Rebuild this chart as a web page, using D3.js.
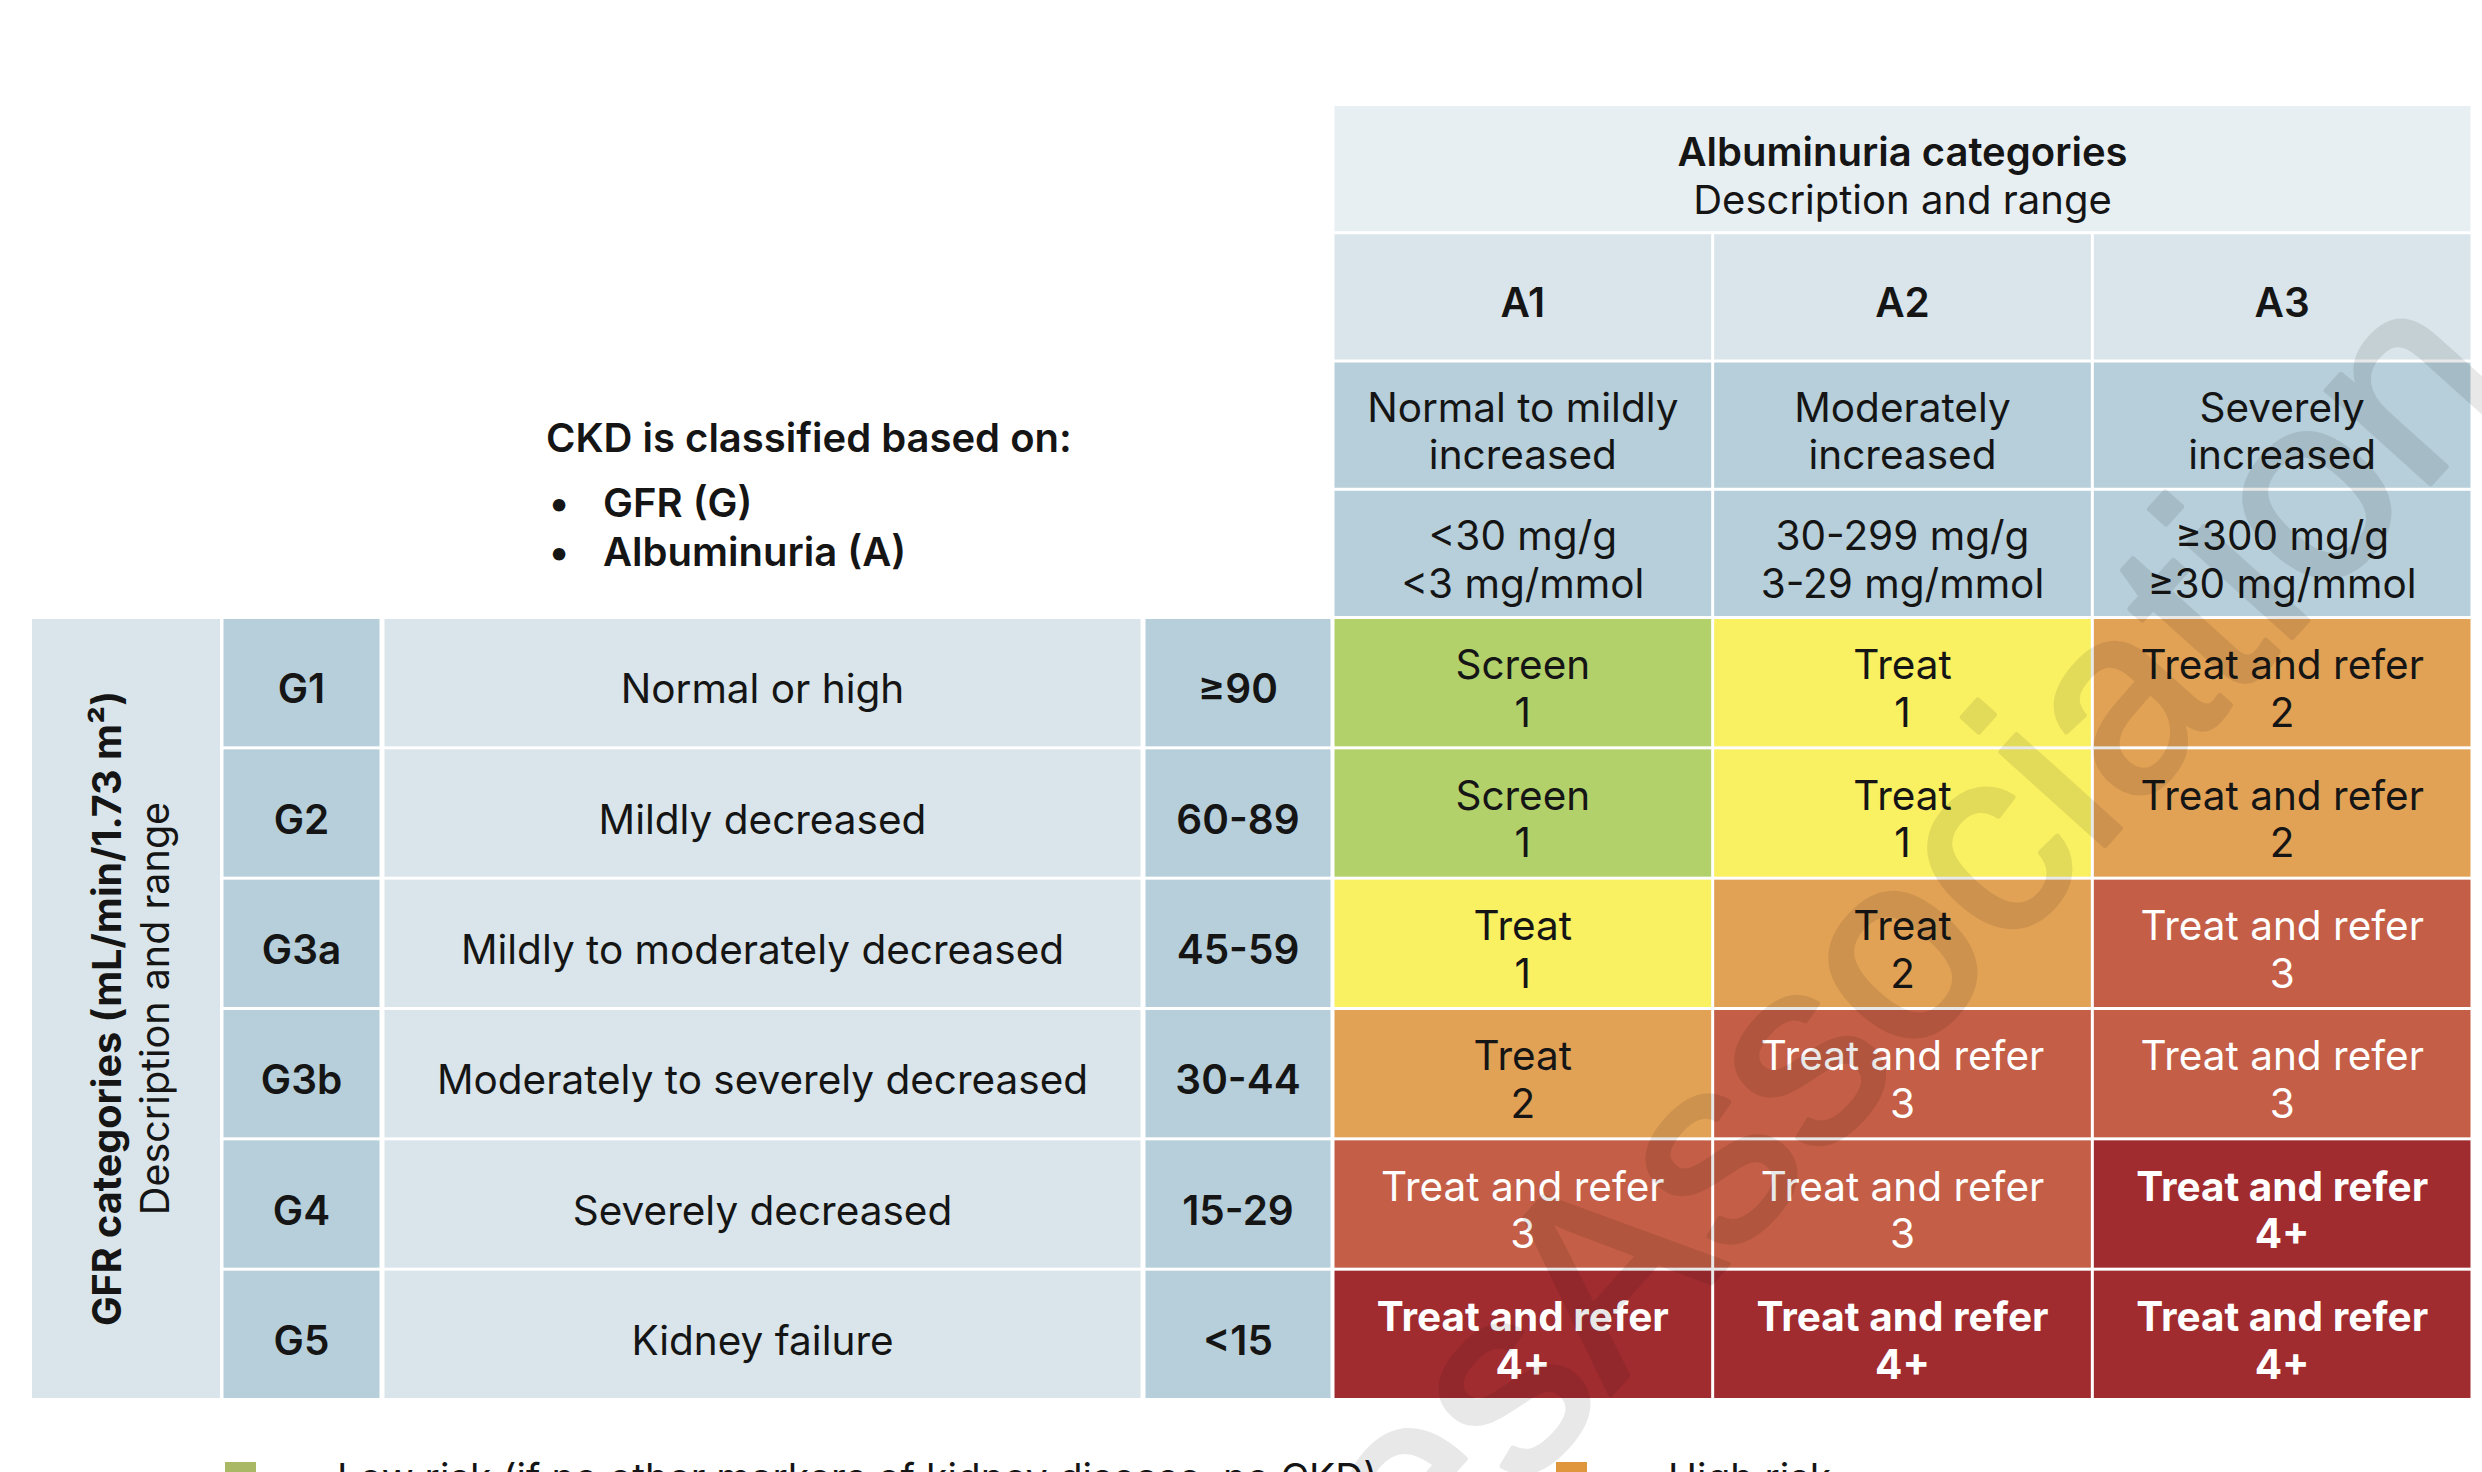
<!DOCTYPE html>
<html>
<head>
<meta charset="utf-8">
<script src="https://cdn.jsdelivr.net/npm/d3@7"></script>
<style>
  body { margin: 0; background: #fff; }
  text { font-family: Inter, "Noto Sans", sans-serif; fill: #151515; }
</style>
</head>
<body>
<div id="chart-area"></div>
<script>
// CKD risk grid: GFR categories x albuminuria categories

var albCodes = ["A1", "A2", "A3"]
var albDesc = [["Normal to mildly", "increased"], ["Moderately", "increased"], ["Severely", "increased"]]
var albRange = [["<30 mg/g", "<3 mg/mmol"], ["30-299 mg/g", "3-29 mg/mmol"], ["≥300 mg/g", "≥30 mg/mmol"]]

var gfrCodes = ["G1", "G2", "G3a", "G3b", "G4", "G5"]
var gfrDesc = ["Normal or high", "Mildly decreased", "Mildly to moderately decreased",
  "Moderately to severely decreased", "Severely decreased", "Kidney failure"]
var gfrRange = ["≥90", "60-89", "45-59", "30-44", "15-29", "<15"]

// risk level per cell: 0 low, 1 moderate, 2 high, 3 very high, 4 highest
var riskLevel = [
  [0, 1, 2],
  [0, 1, 2],
  [1, 2, 3],
  [2, 3, 3],
  [3, 3, 4],
  [4, 4, 4]
]
var actions = [
  ["Screen", "Treat", "Treat and refer"],
  ["Screen", "Treat", "Treat and refer"],
  ["Treat", "Treat", "Treat and refer"],
  ["Treat", "Treat and refer", "Treat and refer"],
  ["Treat and refer", "Treat and refer", "Treat and refer"],
  ["Treat and refer", "Treat and refer", "Treat and refer"]
]
var visits = [
  ["1", "1", "2"],
  ["1", "1", "2"],
  ["1", "2", "3"],
  ["2", "3", "3"],
  ["3", "3", "4+"],
  ["4+", "4+", "4+"]
]

var legendLabels = ["Low risk (if no other markers of kidney disease, no CKD)", "High risk"]
var legendLevels = [0, 2]

var riskColor = d3.scaleOrdinal()
  .domain([0, 1, 2, 3, 4])
  .range(["#b3d16b", "#f9f062", "#e2a256", "#c45e46", "#a12c30"])
var legendColor = d3.scaleOrdinal()
  .domain([0, 2])
  .range(["#a8b864", "#e0963c"])

var W = 2482, H = 1472
var gap = 3
var fs = 40.5
var textDy = 6

var svg = d3.select("#chart-area")
  .append("svg")
  .attr("width", W)
  .attr("height", H)

// header rows above, GFR rows below
var yHead = d3.scaleBand()
  .domain(["title", "code", "desc", "range"])
  .range([106, 619])
var yRow = d3.scaleBand()
  .domain(gfrCodes)
  .range([619, 1401])

var x = d3.scaleBand()
  .domain(albCodes)
  .range([1333, 2472])

// left-hand columns (label, code, description, range)
var leftCols = { label: [32, 220], code: [222, 381], desc: [383, 1142], range: [1144, 1332] }

var light = "#d9e5ea", mid = "#b6cfda", pale = "#e8eff3"

function band(row) {
  return yHead.domain().indexOf(row) >= 0
    ? { y: yHead(row), h: yHead.bandwidth() }
    : { y: yRow(row), h: yRow.bandwidth() }
}

function cellRect(x0, x1, row, fill) {
  var b = band(row)
  svg.append("rect")
    .attr("x", x0 + gap / 2)
    .attr("y", b.y)
    .attr("width", x1 - x0 - gap)
    .attr("height", b.h - gap)
    .attr("fill", fill)
}

function cellText(cx, row, lines, opts) {
  var b = band(row)
  var cy = b.y + (b.h - gap) / 2 + textDy
  var n = lines.length
  lines.forEach(function(t, i) {
    svg.append("text")
      .attr("x", cx)
      .attr("y", cy + (i - (n - 1) / 2) * 47.5)
      .attr("text-anchor", "middle")
      .attr("dominant-baseline", "central")
      .attr("font-size", opts.size || fs)
      .attr("font-weight", opts.weight || 400)
      .style("fill", opts.color || "#151515")
      .text(t)
  })
}

// --- header block
cellRect(x.range()[0], x.range()[1], "title", pale)
var tx = (x.range()[0] + x.range()[1]) / 2
var ty = yHead("title") + (yHead.bandwidth() - gap) / 2
svg.append("text").attr("x", tx).attr("y", ty - 17)
  .attr("text-anchor", "middle").attr("dominant-baseline", "central")
  .attr("font-size", 40).attr("font-weight", 600)
  .text("Albuminuria categories")
svg.append("text").attr("x", tx).attr("y", ty + 30.5)
  .attr("text-anchor", "middle").attr("dominant-baseline", "central")
  .attr("font-size", 40)
  .text("Description and range")

albCodes.forEach(function(a, j) {
  var x0 = x(a), x1 = x(a) + x.bandwidth()
  var cx = x0 + x.bandwidth() / 2
  cellRect(x0, x1, "code", light)
  cellText(cx, "code", [a], { weight: 600 })
  cellRect(x0, x1, "desc", mid)
  cellText(cx, "desc", albDesc[j], {})
  cellRect(x0, x1, "range", mid)
  cellText(cx, "range", albRange[j], {})
})

// --- left label column (merged over GFR rows)
var g0 = yRow.range()[0], g1 = yRow.range()[1] - gap
svg.append("rect")
  .attr("x", leftCols.label[0])
  .attr("y", g0)
  .attr("width", leftCols.label[1] - leftCols.label[0])
  .attr("height", g1 - g0)
  .attr("fill", light)

var vl = svg.append("g")
  .attr("transform", "translate(" + ((leftCols.label[0] + leftCols.label[1]) / 2 + 5) + "," + ((g0 + g1) / 2) + ") rotate(-90)")
vl.append("text").attr("y", -24)
  .attr("text-anchor", "middle").attr("dominant-baseline", "central")
  .attr("font-size", 39.5).attr("font-weight", 700)
  .text("GFR categories (mL/min/1.73 m²)")
vl.append("text").attr("y", 24)
  .attr("text-anchor", "middle").attr("dominant-baseline", "central")
  .attr("font-size", 39.5)
  .text("Description and range")

// --- GFR rows and risk cells
gfrCodes.forEach(function(g, i) {
  cellRect(leftCols.code[0], leftCols.code[1], g, mid)
  cellText((leftCols.code[0] + leftCols.code[1]) / 2, g, [g], { weight: 600 })
  cellRect(leftCols.desc[0], leftCols.desc[1], g, light)
  cellText((leftCols.desc[0] + leftCols.desc[1]) / 2, g, [gfrDesc[i]], {})
  cellRect(leftCols.range[0], leftCols.range[1], g, mid)
  cellText((leftCols.range[0] + leftCols.range[1]) / 2, g, [gfrRange[i]], { weight: 600 })

  albCodes.forEach(function(a, j) {
    var lvl = riskLevel[i][j]
    cellRect(x(a), x(a) + x.bandwidth(), g, riskColor(lvl))
    cellText(x(a) + x.bandwidth() / 2, g, [actions[i][j], visits[i][j]], {
      color: lvl >= 3 ? "#ffffff" : "#151515",
      weight: lvl >= 4 ? 700 : 400
    })
  })
})

// --- classification note
svg.append("text").attr("x", 546).attr("y", 452)
  .attr("font-size", 40).attr("font-weight", 600)
  .text("CKD is classified based on:")
var bullets = ["GFR (G)", "Albuminuria (A)"]
bullets.forEach(function(b, i) {
  var by = 517 + i * 49
  svg.append("text").attr("x", 549).attr("y", by)
    .attr("font-size", 40).attr("font-weight", 600).text("•")
  svg.append("text").attr("x", 603).attr("y", by)
    .attr("font-size", 40).attr("font-weight", 600).text(b)
})

// --- legend (only its top row shows above the bottom edge)
var legendX = [225, 1556]
legendLabels.forEach(function(l, i) {
  svg.append("rect")
    .attr("x", legendX[i]).attr("y", 1462)
    .attr("width", 31).attr("height", 31)
    .attr("fill", legendColor(legendLevels[i]))
  svg.append("text")
    .attr("x", legendX[i] + 112).attr("y", 1492)
    .attr("font-size", 39)
    .text(l)
})

// --- watermark
svg.append("g")
  .attr("opacity", 0.085)
  .append("text")
  .attr("transform", "translate(2517,388) rotate(-48)")
  .attr("text-anchor", "end")
  .attr("font-size", 265)
  .style("font-family", "'Liberation Sans', Arial, sans-serif")
  .style("fill", "#000")
  .style("stroke", "#000")
  .style("stroke-width", 5)
  .style("stroke-linejoin", "round")
  .text("DiabetesAssociation")
</script>
</body>
</html>
